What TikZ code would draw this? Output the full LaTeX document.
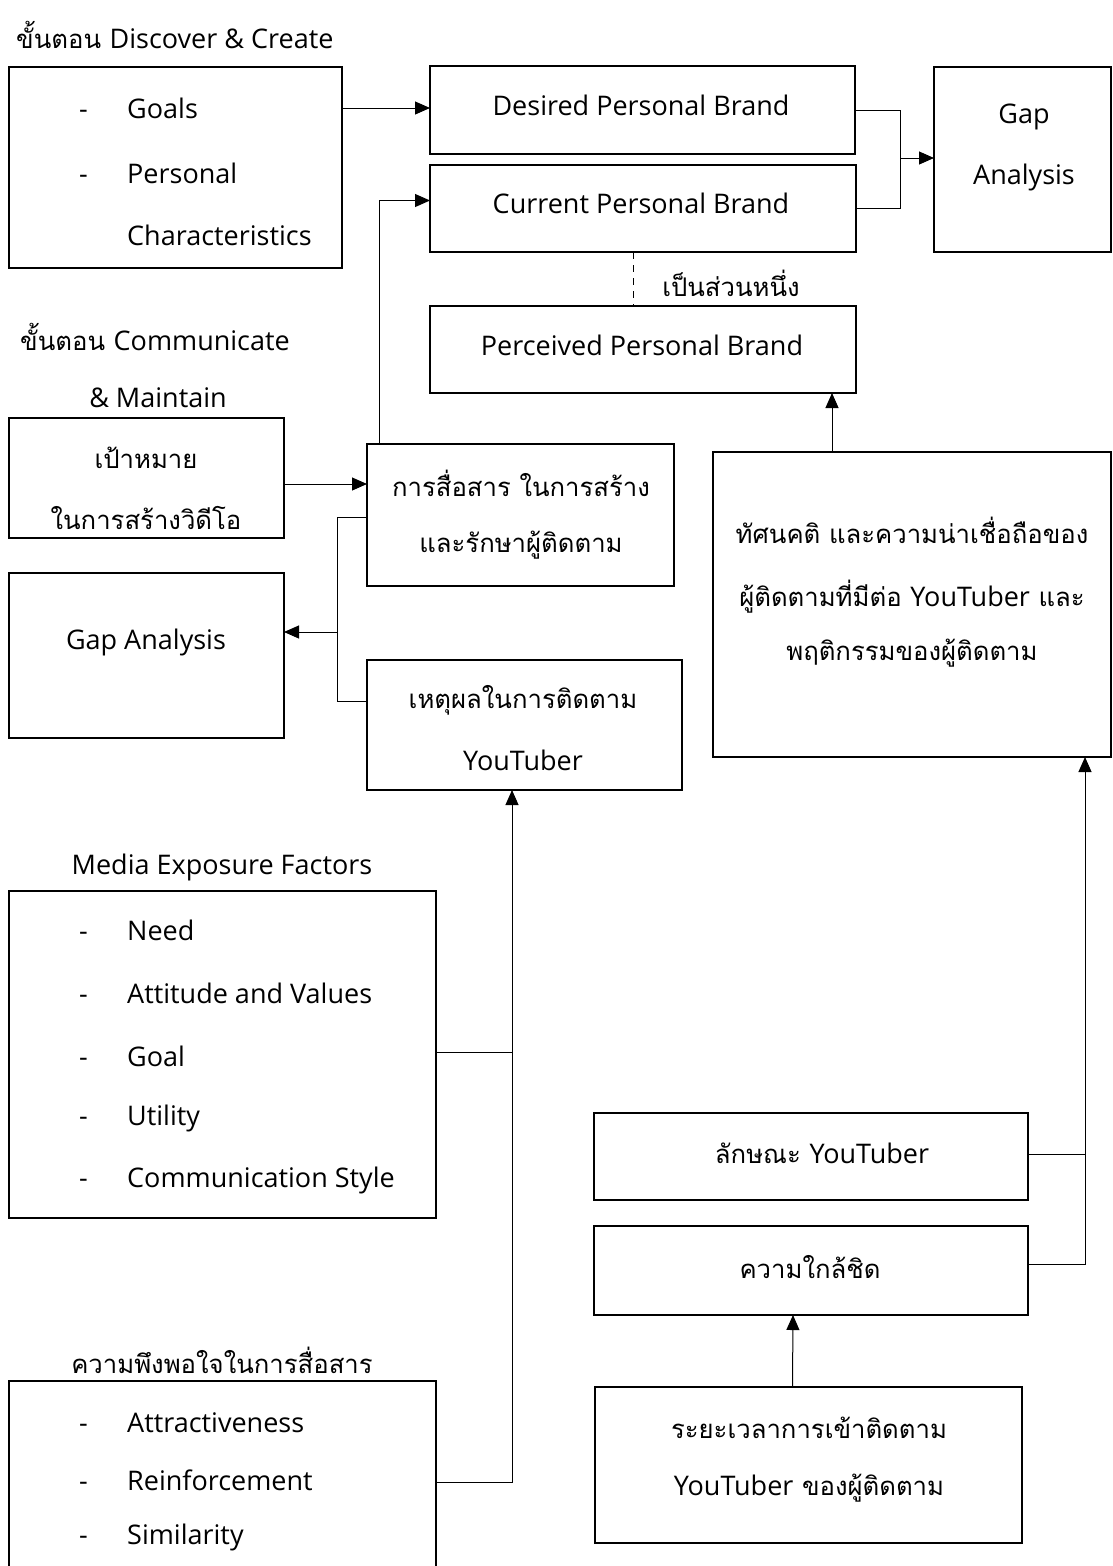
\documentclass[tikz,border=0pt]{standalone}
\usepackage{fontspec}
\setmainfont{Loma}[Script=Thai]
\newfontfamily\latf{Open Sans}
\usetikzlibrary{arrows.meta,calc}
\newcommand{\la}[1]{{\latf\fontsize{27}{30}\selectfont #1}}
\tikzset{
  box/.style={draw, line width=1.8pt, rectangle, inner sep=0pt, outer sep=0pt},
  conn/.style={line width=1pt},
  arr/.style={line width=1pt, -{Triangle[length=15pt,width=13pt]}},
  txt/.style={inner sep=0pt, font=\fontsize{25.7}{30}\selectfont},
  ltxt/.style={inner sep=0pt, font=\latf\fontsize{27}{30}\selectfont},
  item/.style={ltxt, anchor=west},
}
\newcommand{\mybox}[5]{\node[box, minimum width={#4-#2}, minimum height={#5-#3}] (#1) at ({(#2+#4)/2},{(#3+#5)/2}) {};}
\newcommand{\dsh}{\makebox[48pt][l]{-}}
\begin{document}
\begin{tikzpicture}[x=1pt,y=-1pt]
\useasboundingbox (0,0) rectangle (1112,1566);
% boxes
\mybox{goals}{9}{67}{342}{268}
\mybox{desired}{430}{66}{855}{154}
\mybox{current}{430}{165}{856}{252}
\mybox{gapR}{934}{67}{1111}{252}
\mybox{perceived}{430}{306}{856}{393}
\mybox{target}{9}{418}{284}{538}
\mybox{comm}{367}{444}{674}{586}
\mybox{gapL}{9}{573}{284}{738}
\mybox{reason}{367}{660}{682}{790}
\mybox{att}{713}{452}{1111}{757}
\mybox{media}{9}{891}{436}{1218}
\mybox{satis}{9}{1381}{436}{1600}
\mybox{trait}{594}{1113}{1028}{1200}
\mybox{close}{594}{1226}{1028}{1315}
\mybox{dur}{595}{1387}{1022}{1543}
% titles
\node[txt, anchor=west] (t1) at (16,35) {ขั้นตอน \la{Discover \& Create}};
\node[txt, anchor=west] (t2) at (20,337) {ขั้นตอน \la{Communicate}};
\node[ltxt] (t3) at (158,398) {\& Maintain};
\node[ltxt] (t4) at (222,867) {Media Exposure Factors};
\node[txt] (t5) at (222,1360) {ความพึงพอใจในการสื่อสาร};
% goals box content
\node[item] (g1) at (79,108) {\dsh Goals};
\node[item] (g2) at (79,173) {\dsh Personal};
\node[item] (g3) at (127,235) {Characteristics};
% box texts
\node[ltxt] (desiredT) at (641,105) {Desired Personal Brand};
\node[ltxt] (currentT) at (641,203) {Current Personal Brand};
\node[ltxt] (gapR1) at (1024,117) {Gap};
\node[ltxt] (gapR2) at (1024,177) {Analysis};
\node[ltxt] (perceivedT) at (642,345) {Perceived Personal Brand};
\node[txt] (partT) at (731,283) {เป็นส่วนหนึ่ง};
\node[txt] (target1) at (146,458) {เป้าหมาย};
\node[txt] (target2) at (146,518) {ในการสร้างวิดีโอ};
\node[txt] (comm1) at (521,483) {การสื่อสาร ในการสร้าง};
\node[txt] (comm2) at (521,545) {และรักษาผู้ติดตาม};
\node[ltxt] (gapLT) at (146,642) {Gap Analysis};
\node[txt] (reason1) at (523,700) {เหตุผลในการติดตาม};
\node[ltxt] (reason2) at (523,760) {YouTuber};
\node[txt] (att1) at (912,530) {ทัศนคติ และความน่าเชื่อถือของ};
\node[txt] (att2) at (912,597) {ผู้ติดตามที่มีต่อ \la{YouTuber} และ};
\node[txt] (att3) at (912,653) {พฤติกรรมของผู้ติดตาม};
% media items
\foreach \y/\t [count=\i] in {930/Need, 993/Attitude and Values, 1056/Goal, 1118/Utility, 1180/Communication Style}{
  \node[item] (m\i) at (79,\y) {\dsh\t};
}
\foreach \y/\t [count=\i] in {1423/Attractiveness, 1480/Reinforcement, 1537/Similarity}{
  \node[item] (s\i) at (79,\y) {\dsh\t};
}
\node[txt] (traitT) at (822,1153) {ลักษณะ \la{YouTuber}};
\node[txt] (closeT) at (810,1267) {ความใกล้ชิด};
\node[txt] (dur1) at (809,1428) {ระยะเวลาการเข้าติดตาม};
\node[txt] (dur2) at (809,1488) {\la{YouTuber} ของผู้ติดตาม};
% connectors
\draw[arr] (goals.east |- 0,108) -- (desired.west |- 0,108);
\coordinate (cup) at ($(comm.north west)+(12,0)$);
\draw[arr] (cup) |- ($(current.west)+(0,-8)$);
\coordinate (bj) at (900,158);
\draw[conn] (desired.east) -- (desired.east -| bj) -- (current.east -| bj) -- (current.east);
\draw[arr] (bj) -- (bj -| gapR.west);
\draw[conn, dash pattern=on 7pt off 6pt] ($(current.south west)+(203,0)$) -- ($(perceived.north west)+(203,0)$);
\draw[arr] ($(att.north west)+(119,0)$) -- ($(perceived.south west)+(402,0)$);
\draw[arr] (target.east |- 0,484) -- (comm.west |- 0,484);
\coordinate (lj) at (337,632);
\draw[conn] ($(comm.west)+(0,2)$) -- ($(comm.west -| lj)+(0,2)$) -- ($(reason.west -| lj)+(0,-24)$) -- ($(reason.west)+(0,-24)$);
\draw[arr] (lj) -- (lj -| gapL.east);
\coordinate (vj) at (512,1052);
\draw[conn] (media.east |- vj) -- (vj);
\draw[arr] (satis.east |- 0,1482) -| (reason.south -| vj);
\coordinate (rj) at (1085,1154);
\draw[conn] (trait.east |- rj) -- (rj);
\draw[arr] (close.east |- 0,1264) -| (att.south -| rj);
\draw[arr] ($(dur.north)+(-16,0)$) -- ($(close.south)+(-18,0)$);
\end{tikzpicture}
\end{document}
